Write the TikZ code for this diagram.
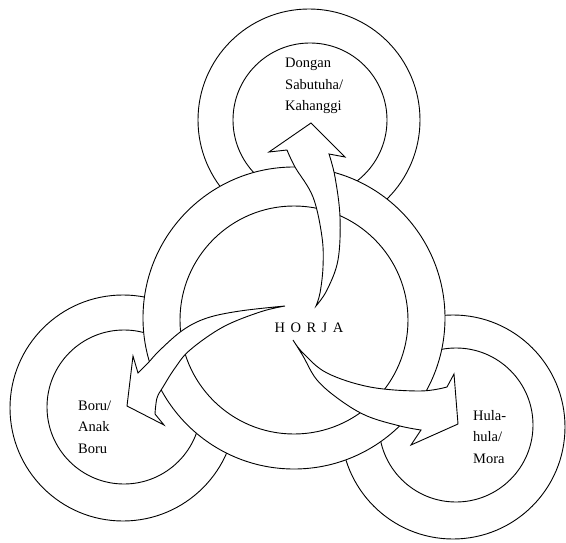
\documentclass[tikz,border=0pt]{standalone}
\usepackage{fontspec}
\setmainfont{Liberation Serif}
\begin{document}
\begin{tikzpicture}[x=1pt,y=-1pt,
  ln/.style={line width=0.9pt,black},
  disk/.style={ln,fill=white},
  arrowbody/.style={ln,fill=white,line join=miter},
  lbl/.style={align=left,inner sep=0pt,font=\fontsize{14.5}{21.5}\selectfont}]
\useasboundingbox (0,0) rectangle (566,543);
% outer rings (behind)
\draw[ln] (123,408) circle[radius=113];
\draw[ln] (124,407) circle[radius=77];
\draw[ln] (309,120) circle[radius=111];
\draw[ln] (310,120) circle[radius=77];
\draw[ln] (453,427) circle[radius=112];
\draw[ln] (456,425) circle[radius=77];
% central ring (front)
\draw[disk] (294,318) circle[radius=151];
\draw[ln] (294,320) circle[radius=114];
% arrow to top
\draw[arrowbody] plot[smooth,tension=0.6] coordinates {(316,306) (320,293) (323,267) (322,237) (313,197) (295,167) (287,150)}
  -- (269,152) -- (311,123) -- (345,157) -- (329,154)
  -- plot[smooth,tension=0.6] coordinates {(329,154) (335,177) (340,217) (338,260) (327,290) (316,306)} -- cycle;
% arrow to left
\draw[arrowbody] plot[smooth,tension=0.6] coordinates {(285,306) (240,311) (207,318) (183,330) (160,350) (148,363) (138,373)}
  -- (133,356) -- (127,406) -- (164,425) -- (155,414)
  -- plot[smooth,tension=0.6] coordinates {(155,414) (157,398) (163,387) (175,368) (190,350) (223,327) (260,312) (285,306)} -- cycle;
% arrow to right
\draw[arrowbody] plot[smooth,tension=0.6] coordinates {(293,340) (303,353) (327,373) (370,387) (420,391) (447,387)}
  -- (454,374) -- (458,424) -- (411,445) -- (421,430)
  -- plot[smooth,tension=0.6] coordinates {(421,430) (400,426) (367,416) (340,400) (317,380) (303,356) (293,340)} -- cycle;
% labels
\node[lbl,anchor=west] (dongan) at (285,86) {Dongan\\Sabutuha/\\Kahanggi};
\node[lbl,anchor=west] (boru) at (78,427) {Boru/\\Anak\\Boru};
\node[lbl,anchor=west] (hula) at (473,437) {Hula-\\hula/\\Mora};
\node[lbl] (horja) at (309,328) {H\kern5.5pt O\kern5.5pt R\kern5.5pt J\kern5.5pt A};
\end{tikzpicture}
\end{document}
